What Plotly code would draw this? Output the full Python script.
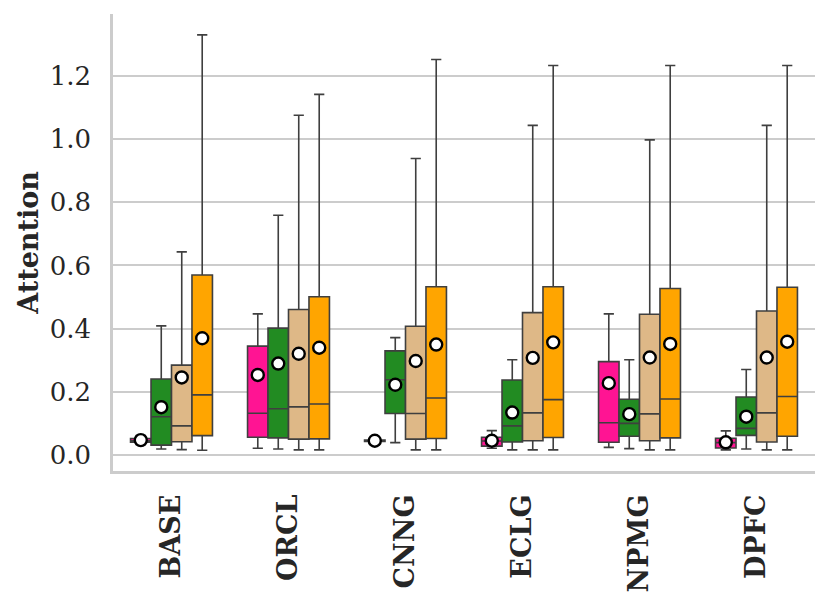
import plotly.graph_objects as go

# Data
categories = ['BASE', 'ORCL', 'CNNG', 'ECLG', 'NPMG', 'DPFC']
series = ['S1', 'S2', 'S3', 'S4']
colors = ['#FF1493', '#228B22', '#DEB887', '#FFA500']

# per series: one value per category
q1 = [
    [0.041, 0.057, 0.044, 0.029, 0.041, 0.023],
    [0.032, 0.055, 0.132, 0.042, 0.060, 0.063],
    [0.043, 0.051, 0.051, 0.046, 0.046, 0.042],
    [0.062, 0.052, 0.053, 0.056, 0.055, 0.060],
]
median = [
    [0.046, 0.133, 0.046, 0.045, 0.103, 0.040],
    [0.122, 0.147, 0.239, 0.093, 0.101, 0.085],
    [0.093, 0.153, 0.132, 0.134, 0.131, 0.134],
    [0.191, 0.162, 0.181, 0.176, 0.178, 0.186],
]
q3 = [
    [0.053, 0.345, 0.048, 0.057, 0.296, 0.054],
    [0.241, 0.402, 0.330, 0.238, 0.177, 0.184],
    [0.285, 0.461, 0.408, 0.451, 0.446, 0.456],
    [0.570, 0.501, 0.533, 0.533, 0.527, 0.531],
]
lower = [
    [0.034, 0.022, 0.043, 0.022, 0.025, 0.017],
    [0.020, 0.020, 0.040, 0.017, 0.021, 0.020],
    [0.018, 0.017, 0.017, 0.017, 0.017, 0.017],
    [0.016, 0.017, 0.017, 0.017, 0.017, 0.017],
]
upper = [
    [0.062, 0.447, 0.049, 0.078, 0.447, 0.077],
    [0.409, 0.759, 0.372, 0.302, 0.302, 0.271],
    [0.643, 1.075, 0.938, 1.043, 0.997, 1.043],
    [1.329, 1.141, 1.251, 1.232, 1.232, 1.232],
]
means = [
    [0.048, 0.254, 0.046, 0.046, 0.228, 0.041],
    [0.152, 0.290, 0.223, 0.135, 0.130, 0.122],
    [0.246, 0.321, 0.298, 0.308, 0.309, 0.309],
    [0.370, 0.340, 0.350, 0.357, 0.352, 0.359],
]
yticks = [0.0, 0.2, 0.4, 0.6, 0.8, 1.0, 1.2]

box_w = 0.175
fig = go.Figure()

for j, name in enumerate(series):
    xs = [i + (j - 1.5) * box_w for i in range(len(categories))]
    fig.add_trace(go.Box(
        x=xs, q1=q1[j], median=median[j], q3=q3[j],
        lowerfence=lower[j], upperfence=upper[j],
        width=box_w, whiskerwidth=0.5,
        fillcolor=colors[j], line=dict(color='#3f3f3f', width=1.6),
        name=name, showlegend=False, boxpoints=False,
    ))
    fig.add_trace(go.Scatter(
        x=xs, y=means[j], mode='markers',
        marker=dict(symbol='circle', size=12, color='white',
                    line=dict(color='black', width=2.4)),
        showlegend=False, hoverinfo='y',
    ))

fig.update_layout(
    width=830, height=605,
    margin=dict(l=113, r=15, t=14, b=134),
    paper_bgcolor='white', plot_bgcolor='white',
    font=dict(family='DejaVu Serif', color='#262626'),
    boxmode='overlay',
    showlegend=False,
)
fig.update_xaxes(
    range=[-0.5, 5.5],
    tickvals=list(range(len(categories))),
    ticktext=categories,
    tickangle=-90,
    tickfont=dict(size=27, weight='bold', color='#262626'),
    showgrid=False, zeroline=False,
    showline=True, linecolor='#cccccc', linewidth=2.5,
    ticks='', ticklabelstandoff=10, automargin=False,
)
fig.update_yaxes(
    range=[-0.0497, 1.395],
    tickvals=yticks,
    ticktext=['%.1f' % v for v in yticks],
    tickfont=dict(size=26, color='#262626'),
    title=dict(text='Attention', font=dict(size=27, weight='bold', color='#262626'),
               standoff=4),
    showgrid=True, gridcolor='#cccccc', gridwidth=2,
    zeroline=False,
    showline=True, linecolor='#cccccc', linewidth=2.5,
    ticks='', ticklabelstandoff=14, automargin=False,
)

# drop the default page margin so the figure sits at the window corner
fig.write_html('out.html', config={'displayModeBar': False},
               post_script="document.body.style.margin='0';")
